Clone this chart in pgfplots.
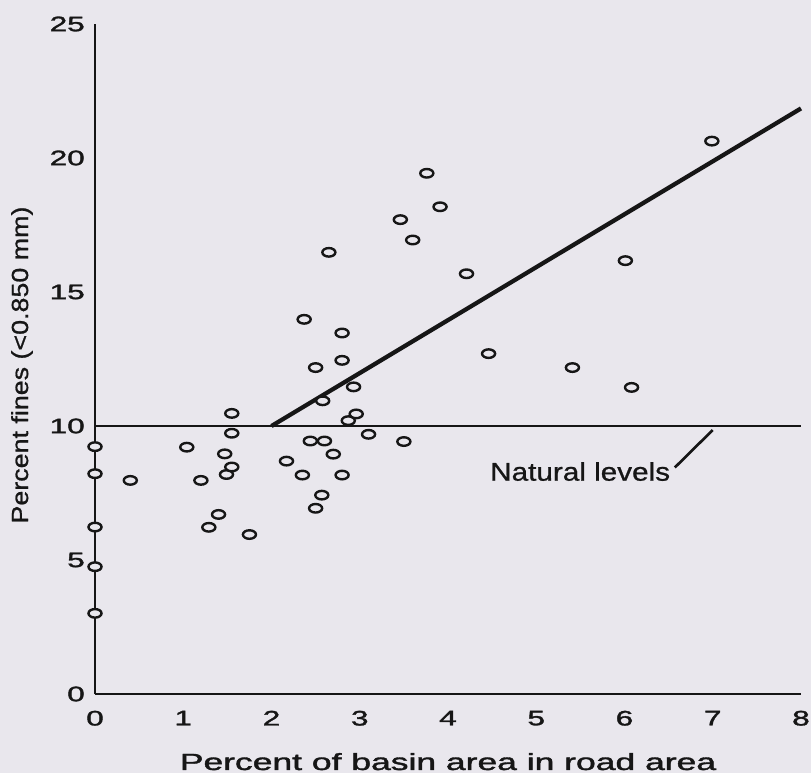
\documentclass[border=0pt]{standalone}
\usepackage{fontspec}
\setmainfont{Liberation Sans}
\newfontfamily\heavy[FakeBold=1.4]{Liberation Sans}
\newfontfamily\medium[FakeBold=0.8]{Liberation Sans}
\usepackage{graphicx}
\usepackage{pgfplots}
\pgfplotsset{compat=1.18}
\definecolor{bg}{RGB}{233,231,237}
\definecolor{ink}{RGB}{22,22,22}
\pgfdeclareplotmark{ell}{\pgfpathellipse{\pgfpointorigin}{\pgfpoint{4.9pt}{0pt}}{\pgfpoint{0pt}{3.2pt}}\pgfusepathqfillstroke}
\newcommand\tl[1]{\scalebox{1.5}[1]{#1}}
\begin{document}
\begin{tikzpicture}
\useasboundingbox (0,0) rectangle (608.25pt,-579.75pt);
\fill[bg] (0,0) rectangle (608.25pt,-579.75pt);
\begin{axis}[
  at={(71.25pt,-520.5pt)}, anchor=south west,
  scale only axis, width=529.5pt, height=502.5pt,
  xmin=0, xmax=8, ymin=0, ymax=25,
  axis x line*=bottom, axis y line*=left,
  axis line style={ink, line width=1.5pt, -},
  major tick length=0pt,
  clip=false,
  xtick={0,1,2,3,4,5,6,7,8},
  xticklabels={\tl{0},\tl{1},\tl{2},\tl{3},\tl{4},\tl{5},\tl{6},\tl{7},\tl{8}},
  ytick={0,5,10,15,20,25},
  yticklabels={\tl{0},\tl{5},\tl{10},\tl{15},\tl{20},\tl{25}},
  tick label style={font=\heavy\fontsize{15.75}{16}\selectfont, text=ink},
  xticklabel style={anchor=north, inner sep=0pt, yshift=-12.4pt},
  yticklabel style={anchor=east, inner sep=0pt, xshift=-7.5pt},
  xlabel={\scalebox{1.52}[1]{Percent of basin area in road area}},
  xlabel style={font=\heavy\fontsize{17.5}{18}\selectfont, text=ink, at={(axis description cs:0.5,-0.1134)}, anchor=base},
  ylabel={\scalebox{1.15}[1]{Percent fines (<0.850 mm)}},
  ylabel style={font=\medium\fontsize{17.5}{18}\selectfont, text=ink, at={(axis description cs:-0.1034,0.491)}, anchor=center},
]
\addplot[ink, line width=2.1pt] coordinates {(0,10) (8,10)};
\addplot[ink, line width=3.2pt] coordinates {(2,10) (8,21.85)};
\draw[ink, line width=2pt] (axis cs:7.0,9.85) -- (axis cs:6.57,8.45);
\node[anchor=base east, inner sep=0pt, text=ink, font=\medium\fontsize{19.2}{20}\selectfont] at (axis cs:6.52,7.96) {\scalebox{1.16}[1]{Natural levels}};
\addplot[only marks, mark=ell, mark options={draw=ink, fill=bg, line width=1.8pt}] coordinates {
(0,9.23) (0,8.22) (0,6.23) (0,4.75) (0,3.01)
(0.40,7.97) (1.04,9.21) (1.20,7.97) (1.29,6.22) (1.40,6.70) (1.47,8.96) (1.49,8.19) (1.55,8.47) (1.55,9.73) (1.55,10.47) (1.75,5.95)
(2.17,8.69) (2.35,8.17) (2.37,13.98) (2.44,9.44) (2.50,6.93) (2.50,12.18) (2.57,7.42) (2.58,10.94) (2.60,9.44) (2.65,16.48) (2.70,8.95) (2.80,8.17) (2.80,12.45) (2.80,13.47) (2.87,10.20) (2.93,11.46) (2.96,10.45) (3.10,9.69)
(3.46,17.70) (3.50,9.42) (3.60,16.94) (3.76,19.43) (3.91,18.18) (4.21,15.68) (4.46,12.70) (5.41,12.18) (6.01,16.17) (6.08,11.44) (6.99,20.63)
};
\end{axis}
\end{tikzpicture}
\end{document}
